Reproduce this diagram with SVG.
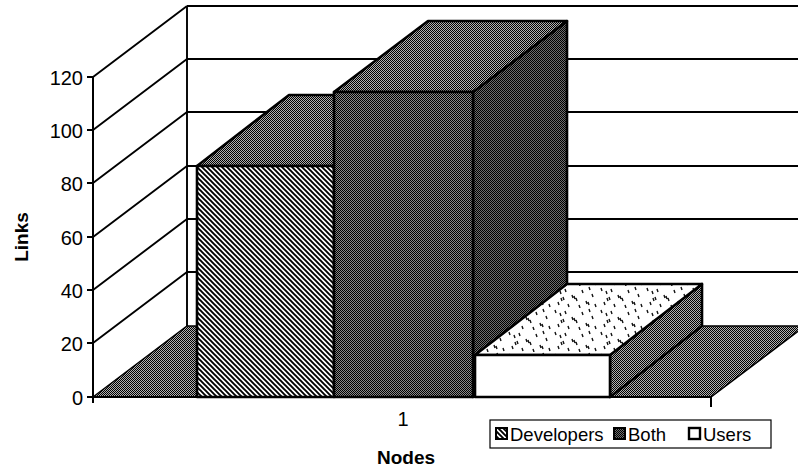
<svg xmlns="http://www.w3.org/2000/svg" width="798" height="469" viewBox="0 0 798 469">
  <defs>
    <!-- fine checker used for floor, bar tops and side faces -->
    <pattern id="chk" width="2" height="2" patternUnits="userSpaceOnUse">
      <rect width="2" height="2" fill="#b0b0b0"/>
      <rect width="1" height="1" fill="#000"/>
      <rect x="1" y="1" width="1" height="1" fill="#000"/>
    </pattern>
    <!-- darker checker for the Both bar -->
    <pattern id="dark" width="2" height="2" patternUnits="userSpaceOnUse">
      <rect width="2" height="2" fill="#8a8a8a"/>
      <rect width="1" height="1" fill="#000"/>
      <rect x="1" y="1" width="1" height="1" fill="#000"/>
    </pattern>
    <pattern id="darker" width="2" height="2" patternUnits="userSpaceOnUse">
      <rect width="2" height="2" fill="#6e6e6e"/>
      <rect width="1" height="1" fill="#000"/>
      <rect x="1" y="1" width="1" height="1" fill="#000"/>
    </pattern>
    <!-- diagonal hatch for the Developers bar -->
    <pattern id="hatch" width="5" height="5" patternUnits="userSpaceOnUse">
      <rect width="5" height="5" fill="#fff"/>
      <path d="M0,0L5,5M-1,4L1,6M4,-1L6,1" stroke="#000" stroke-width="1.9"/>
    </pattern>
    <!-- sparse speckle for the Users bar top -->
    <pattern id="speck" width="46" height="22" patternUnits="userSpaceOnUse">
      <rect width="46" height="22" fill="#fff"/>
      <g stroke="#111" stroke-width="1.4">
        <path d="M3,2l1,3M8,5l1,3M13,3l1,3M20,9l1,3M22,10l1,3M24,12l1,3M30,4l1,3M34,15l1,3M36,16l1,3M40,8l1,3M6,16l1,3M16,18l1,3M27,19l1,3M43,18l1,3M11,11l1,3M37,1l1,3M9,12l1,3"/>
      </g>
    </pattern>
    <style>
      .grid { stroke: #000; stroke-width: 1.9; fill: none; }
      .edge { stroke: #000; stroke-width: 2.6; stroke-linejoin: round; }
      .axis { stroke: #000; stroke-width: 2; fill: none; }
      .lbl { font-family: "Liberation Sans", Arial, sans-serif; font-size: 20px; fill: #000; }
      .leg { font-family: "Liberation Sans", Arial, sans-serif; font-size: 18.5px; fill: #000; }
      .ttl { font-family: "Liberation Sans", Arial, sans-serif; font-size: 19px; font-weight: bold; fill: #000; }
    </style>
  </defs>

  <rect width="798" height="469" fill="#fff"/>

  <!-- walls and gridlines -->
  <g id="walls">
    <path class="grid" d="M93,77L187,6M93,130L187,59M93,183L187,112M93,237L187,166M93,290L187,219M93,343L187,272"/>
    <path class="grid" d="M187,6V326M187,6H798M187,59H798M187,112H798M187,166H798M187,219H798M187,272H798"/>
  </g>

  <!-- floor -->
  <g id="floor">
    <polygon points="93,397 187,326 805,326 711,397" fill="url(#chk)" stroke="#000" stroke-width="1.5"/>
  </g>

  <!-- bars -->
  <g id="bar-developers">
    <polygon class="edge" points="197,166 289,95 427,95 334,166" fill="url(#chk)"/>
    <rect class="edge" x="197" y="166" width="137" height="231" fill="url(#hatch)"/>
  </g>
  <g id="bar-both">
    <polygon class="edge" points="473,92 567,21 567,326 473,397" fill="url(#darker)"/>
    <polygon class="edge" points="334,92 428,21 567,21 473,92" fill="url(#chk)"/>
    <rect class="edge" x="334" y="92" width="139" height="305" fill="url(#dark)"/>
  </g>
  <g id="bar-users">
    <polygon class="edge" points="610,355 702,284 702,326 610,397" fill="url(#chk)"/>
    <polygon class="edge" points="475,355 567,284 702,284 610,355" fill="url(#speck)"/>
    <rect class="edge" x="475" y="355" width="135" height="42" fill="#fff"/>
  </g>

  <!-- axes, ticks and labels -->
  <g id="axes">
    <path class="axis" d="M93,77V403M93,397H711M711,397V407"/>
    <path class="axis" d="M87,77H93M87,130H93M87,183H93M87,237H93M87,290H93M87,343H93M87,397H93"/>
    <g class="lbl" text-anchor="end">
      <text x="83" y="85">120</text>
      <text x="83" y="138">100</text>
      <text x="83" y="191">80</text>
      <text x="83" y="245">60</text>
      <text x="83" y="298">40</text>
      <text x="83" y="351">20</text>
      <text x="83" y="405">0</text>
    </g>
    <text class="lbl" x="403" y="426" text-anchor="middle">1</text>
    <text class="ttl" x="406" y="464" text-anchor="middle">Nodes</text>
    <text class="ttl" transform="translate(28,237) rotate(-90)" text-anchor="middle">Links</text>
  </g>

  <!-- legend -->
  <g id="legend">
    <rect x="490" y="420" width="281" height="28" fill="#fff" stroke="#000" stroke-width="1.2"/>
    <rect x="496" y="428" width="11" height="11" fill="url(#hatch)" stroke="#000" stroke-width="2"/>
    <text class="leg" x="510" y="441">Developers</text>
    <rect x="614" y="428" width="11" height="11" fill="url(#darker)" stroke="#000" stroke-width="2"/>
    <text class="leg" x="628" y="441">Both</text>
    <rect x="689" y="428" width="11" height="11" fill="#fff" stroke="#000" stroke-width="2.4"/>
    <text class="leg" x="703" y="441">Users</text>
  </g>
</svg>
